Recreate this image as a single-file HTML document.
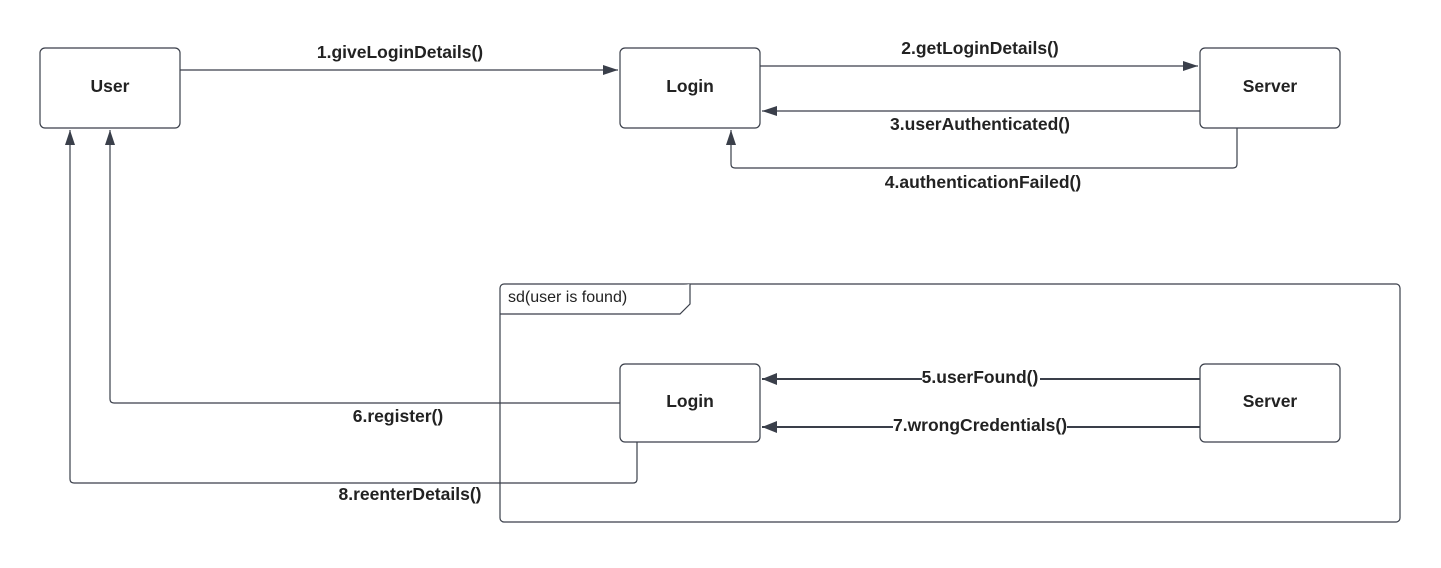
<!DOCTYPE html>
<html><head><meta charset="utf-8"><style>
body{margin:0;background:#fff}
svg text{font-family:"Liberation Sans",Arial,sans-serif;font-weight:bold;font-size:17.5px;fill:#222}
</style></head><body>
<svg width="1441" height="563" viewBox="0 0 1441 563">
<defs><marker id="a" markerWidth="16" markerHeight="12" refX="15" refY="6" orient="auto" markerUnits="userSpaceOnUse">
<path d="M0,1 L15,6 L0,11 Z" fill="#3a3f4a"/></marker>
<marker id="b" markerWidth="16" markerHeight="12" refX="15" refY="6" orient="auto" markerUnits="userSpaceOnUse">
<path d="M0,0 L15,6 L0,12 Z" fill="#3a3f4a"/></marker></defs>
<g fill="#fff" stroke="#3a3f4a" stroke-width="1.2">
<rect x="40" y="48" width="140" height="80" rx="5"/>
<rect x="620" y="48" width="140" height="80" rx="5"/>
<rect x="1200" y="48" width="140" height="80" rx="5"/>
<rect x="500" y="284" width="900" height="238" rx="4"/>
<path d="M500,314 H680 L690,304 V284"/>
<rect x="620" y="364" width="140" height="78" rx="5"/>
<rect x="1200" y="364" width="140" height="78" rx="5"/>
</g>
<g fill="none" stroke="#3a3f4a" stroke-width="1.2">
<path d="M180,70 H618" marker-end="url(#a)"/>
<path d="M760,66 H1198" marker-end="url(#a)"/>
<path d="M1200,111 H762" marker-end="url(#a)"/>
<path d="M1237,128 V164 Q1237,168 1233,168 H735 Q731,168 731,164 V130" marker-end="url(#a)"/>
<path d="M620,403 H114 Q110,403 110,399 V130" marker-end="url(#a)"/>
<path d="M637,442 V479 Q637,483 633,483 H74 Q70,483 70,479 V130" marker-end="url(#a)"/>
<path d="M1200,379 H762" stroke-width="2" marker-end="url(#b)"/>
<path d="M1200,427 H762" stroke-width="2" marker-end="url(#b)"/>
</g>
<rect x="922" y="368" width="118" height="20" fill="#fff"/>
<rect x="893" y="416" width="174" height="20" fill="#fff"/>
<g text-anchor="middle">
<text x="110" y="92">User</text>
<text x="690" y="92">Login</text>
<text x="1270" y="92">Server</text>
<text x="690" y="407">Login</text>
<text x="1270" y="407">Server</text>
<text x="400" y="58">1.giveLoginDetails()</text>
<text x="980" y="54">2.getLoginDetails()</text>
<text x="980" y="130">3.userAuthenticated()</text>
<text x="983" y="188">4.authenticationFailed()</text>
<text x="980" y="383">5.userFound()</text>
<text x="980" y="431">7.wrongCredentials()</text>
<text x="398" y="422">6.register()</text>
<text x="410" y="500">8.reenterDetails()</text>
</g>
<text x="508" y="302" style="font-weight:normal;font-size:16px">sd(user is found)</text>
</svg>
</body></html>
